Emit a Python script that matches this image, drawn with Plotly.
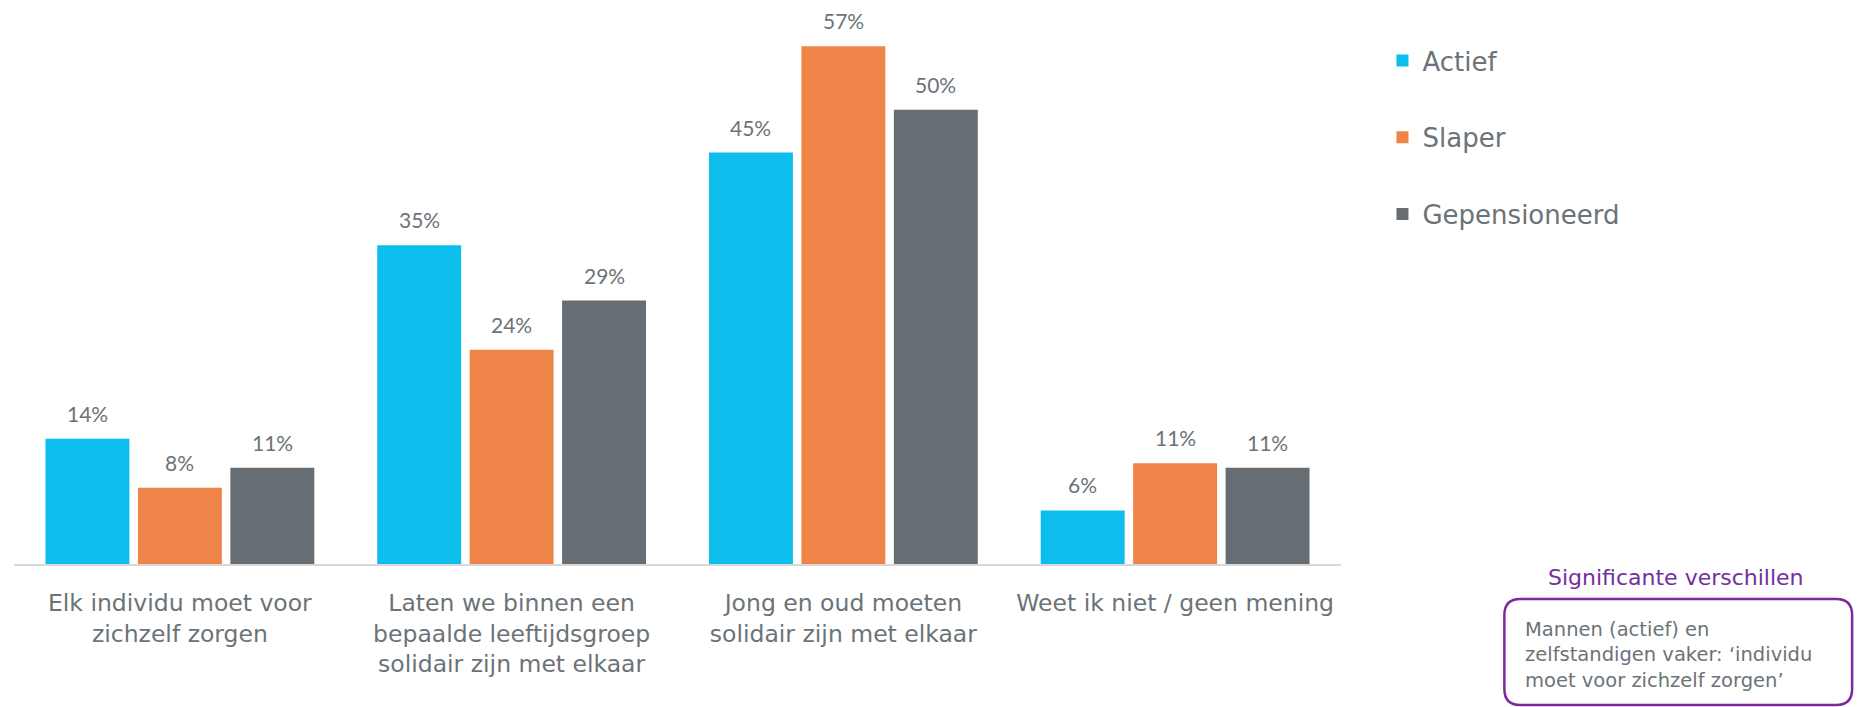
import plotly.graph_objects as go

categories = [
    "Elk individu moet voor<br>zichzelf zorgen",
    "Laten we binnen een<br>bepaalde leeftijdsgroep<br>solidair zijn met elkaar",
    "Jong en oud moeten<br>solidair zijn met elkaar",
    "Weet ik niet / geen mening",
]
series_names = ["Actief", "Slaper", "Gepensioneerd"]
actief = [13.8, 35.1, 45.3, 5.9]
slaper = [8.4, 23.6, 57.0, 11.1]
gepensioneerd = [10.6, 29.0, 50.0, 10.6]
labels_actief = ["14%", "35%", "45%", "6%"]
labels_slaper = ["8%", "24%", "57%", "11%"]
labels_gepens = ["11%", "29%", "50%", "11%"]
colors = ["#0DBDEC", "#EF8449", "#666D73"]

values = [actief, slaper, gepensioneerd]
labels = [labels_actief, labels_slaper, labels_gepens]

OFF = 8  # page body margin offset
W, H = 1862 - OFF, 707 - OFF
ML, MR, MT, MB = 13.5 - OFF, 520.5, 19 - OFF, 143
PW = W - ML - MR
PH = H - MT - MB
BARGAP = 0.164
BARGROUPGAP = 0.092
TXT = "#6B7378"

fig = go.Figure()
for name, vals, col in zip(series_names, values, colors):
    fig.add_trace(go.Bar(
        x=list(range(len(categories))), y=vals, name=name,
        marker=dict(color=col, line=dict(width=0)),
        legendgroup=name, hoverinfo="skip",
    ))

# value labels placed above each bar via data coordinates
slot = (1 - BARGAP) / len(series_names)
annotations = []
for j, (vals, labs) in enumerate(zip(values, labels)):
    for i, (v, lab) in enumerate(zip(vals, labs)):
        annotations.append(dict(
            x=i + (j - 1) * slot, y=v, xref="x", yref="y",
            text=lab, showarrow=False, yanchor="bottom", yshift=11,
            font=dict(family="Lato", size=21, color=TXT),
        ))

def px(xp):
    return (xp - OFF - ML) / PW

def py(yp):
    return (H - MB - (yp - OFF)) / PH

# significance note
annotations.append(dict(
    x=px(1677), y=py(577), xref="paper", yref="paper",
    text="Significante verschillen", showarrow=False,
    xanchor="center", yanchor="middle",
    font=dict(family="DejaVu Sans", size=22, color="#7030A0"),
))
annotations.append(dict(
    x=px(1524), y=py(655), xref="paper", yref="paper",
    text="Mannen (actief) en<br>zelfstandigen vaker: \u2018individu<br>moet voor zichzelf zorgen\u2019",
    showarrow=False, xanchor="left", yanchor="middle", align="left",
    font=dict(family="DejaVu Sans", size=19.5, color=TXT),
))

x0, x1, y0, y1, r = 1505, 1853, 599, 705, 16
path = (
    f"M {px(x0 + r)},{py(y0)} L {px(x1 - r)},{py(y0)} "
    f"Q {px(x1)},{py(y0)} {px(x1)},{py(y0 + r)} L {px(x1)},{py(y1 - r)} "
    f"Q {px(x1)},{py(y1)} {px(x1 - r)},{py(y1)} L {px(x0 + r)},{py(y1)} "
    f"Q {px(x0)},{py(y1)} {px(x0)},{py(y1 - r)} L {px(x0)},{py(y0 + r)} "
    f"Q {px(x0)},{py(y0)} {px(x0 + r)},{py(y0)} Z"
)

fig.update_layout(
    width=W, height=H,
    margin=dict(l=ML, r=MR, t=MT, b=MB, autoexpand=False),
    paper_bgcolor="white", plot_bgcolor="white",
    barmode="group", bargap=BARGAP, bargroupgap=BARGROUPGAP,
    font=dict(family="DejaVu Sans", color=TXT),
    xaxis=dict(
        tickmode="array", tickvals=list(range(len(categories))), ticktext=categories,
        range=[-0.5, len(categories) - 0.5],
        showline=True, linecolor="#D9D9D9", linewidth=2,
        showgrid=False, zeroline=False, ticks="",
        ticklabelstandoff=17,
        tickfont=dict(family="DejaVu Sans", size=23.5, color=TXT),
        fixedrange=True,
    ),
    yaxis=dict(range=[0, 60], visible=False, fixedrange=True),
    legend=dict(
        x=px(1383), y=py(37), xanchor="left", yanchor="top",
        font=dict(family="DejaVu Sans", size=26, color=TXT),
        tracegroupgap=40, itemclick=False, itemdoubleclick=False,
        bgcolor="rgba(0,0,0,0)",
    ),
    annotations=annotations,
    shapes=[dict(type="path", xref="paper", yref="paper", path=path,
                 line=dict(color="#7A2A9A", width=2.5), fillcolor="rgba(0,0,0,0)")],
    showlegend=True,
)

fig.write_html("out.html", config={"displayModeBar": False})
